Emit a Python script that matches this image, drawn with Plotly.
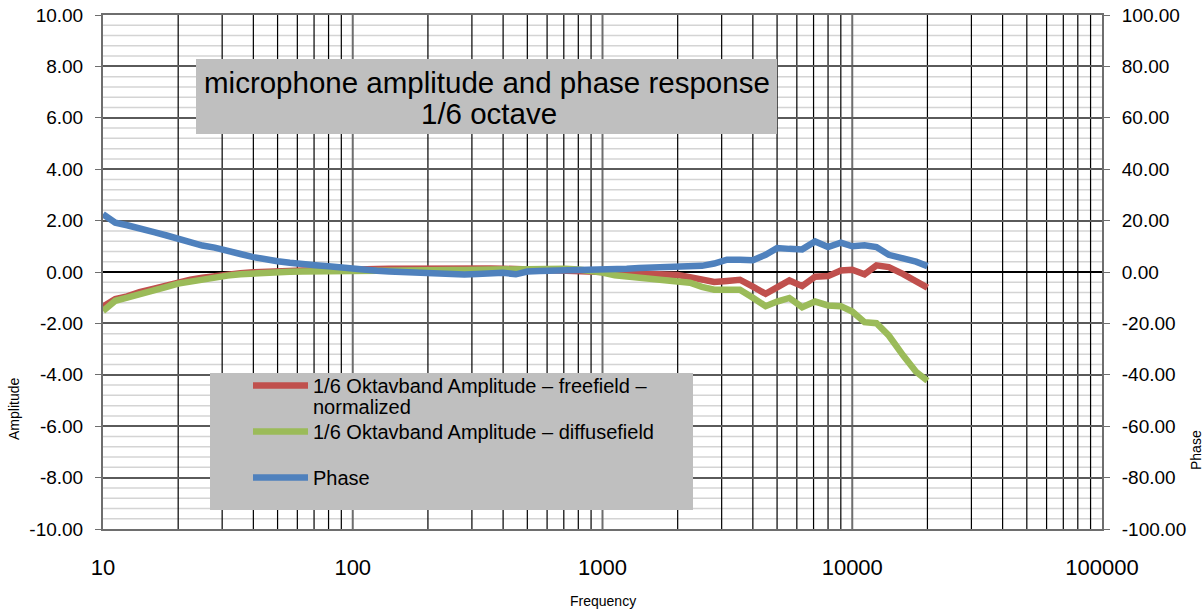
import plotly.graph_objects as go

# 1/6-octave band centre frequencies (Hz)
freq = [10, 11.2, 12.5, 14, 16, 18, 20, 22.4, 25, 28, 31.5, 35.5, 40, 45, 50, 56, 63, 71, 80, 90,
        100, 112, 125, 140, 160, 180, 200, 224, 250, 280, 315, 355, 400, 450, 500, 560, 630, 710, 800, 900,
        1000, 1120, 1250, 1400, 1600, 1800, 2000, 2240, 2500, 2800, 3150, 3550, 4000, 4500, 5000, 5600,
        6300, 7100, 8000, 9000, 10000, 11200, 12500, 14000, 16000, 18000, 20000]

amp_freefield = [-1.35, -1.05, -0.95, -0.78, -0.65, -0.52, -0.40, -0.30, -0.22, -0.15, -0.09, -0.05, -0.01,
                 0.02, 0.04, 0.05, 0.06, 0.06, 0.06, 0.07,
                 0.08, 0.10, 0.12, 0.13, 0.14, 0.15, 0.15, 0.15, 0.15, 0.15, 0.15, 0.14, 0.13, 0.12, 0.12,
                 0.10, 0.08, 0.06, 0.04, 0.02,
                 0.00, -0.02, -0.03, -0.05, -0.07, -0.10, -0.12, -0.20, -0.30, -0.39, -0.35, -0.30, -0.57,
                 -0.85, -0.60, -0.33,
                 -0.55, -0.18, -0.16, 0.06, 0.09, -0.09, 0.26, 0.19, -0.08, -0.39, -0.61]

amp_diffusefield = [-1.52, -1.12, -1.00, -0.85, -0.70, -0.58, -0.45, -0.36, -0.28, -0.20, -0.14, -0.09, -0.05,
                    -0.02, 0.00, 0.01, 0.02, 0.03, 0.04, 0.05,
                    0.06, 0.07, 0.08, 0.09, 0.10, 0.10, 0.10, 0.10, 0.08, 0.08, 0.09, 0.10, 0.10, 0.10, 0.12,
                    0.15, 0.15, 0.13, 0.10, 0.05,
                    -0.02, -0.13, -0.17, -0.20, -0.25, -0.28, -0.33, -0.42, -0.58, -0.69, -0.69, -0.69, -1.00,
                    -1.33, -1.15, -1.01,
                    -1.37, -1.15, -1.30, -1.33, -1.54, -1.95, -1.99, -2.47, -3.25, -3.88, -4.23]

phase = [22.5, 19.2, 18.2, 17.2, 15.5, 14.2, 12.8, 11.2, 10.3, 9.5, 8.0, 7.0, 5.8, 4.8, 4.2, 3.6, 2.9, 2.6,
         2.2, 1.6,
         1.2, 0.8, 0.5, 0.2, 0.0, -0.3, -0.6, -0.9, -1.2, -1.0, -0.8, -0.6, -0.3, -0.9, 0.2, 0.4, 0.5, 0.5,
         0.5, 0.6,
         0.7, 1.0, 1.3, 1.6, 1.9, 2.1, 2.2, 2.2, 2.4, 3.3, 4.8, 4.8, 4.6, 6.7, 9.3, 9.0,
         8.8, 11.9, 9.7, 11.4, 10.0, 10.4, 9.7, 6.7, 5.5, 4.0, 2.3]

series_names = ["1/6 Oktavband Amplitude – freefield –",
                "1/6 Oktavband Amplitude – diffusefield",
                "Phase"]
series_name_continuation = "normalized"
series_colors = ["#C0504D", "#9BBB59", "#4F81BD"]

x_tick_vals = [10, 100, 1000, 10000, 100000]
x_tick_labels = ["10", "100", "1000", "10000", "100000"]
y_tick_vals = [10, 8, 6, 4, 2, 0, -2, -4, -6, -8, -10]
y_tick_labels = ["10.00", "8.00", "6.00", "4.00", "2.00", "0.00", "-2.00", "-4.00", "-6.00", "-8.00", "-10.00"]
y2_tick_vals = [100, 80, 60, 40, 20, 0, -20, -40, -60, -80, -100]
y2_tick_labels = ["100.00", "80.00", "60.00", "40.00", "20.00", "0.00", "-20.00", "-40.00", "-60.00",
                  "-80.00", "-100.00"]

title_lines = ["microphone amplitude and phase response", "1/6 octave"]

W, H = 1204, 612
L, R, T, B = 103, 102, 15, 83
pw, ph = W - L - R, H - T - B


def px(x):
    return (x - L) / pw


def py(y):
    return (H - B - y) / ph


minor_x = [m * 10 ** d for d in range(1, 5) for m in range(2, 10)]
major_x = x_tick_vals[1:-1]
minor_y = [round(-10 + 0.4 * k, 2) for k in range(1, 50) if k % 5 != 0]

fig = go.Figure()
fig.add_trace(go.Scatter(x=freq, y=amp_freefield, name=series_names[0], mode="lines", legendgroup="a",
                         line=dict(color=series_colors[0], width=6.5)))
fig.add_trace(go.Scatter(x=freq, y=amp_diffusefield, name=series_names[1], mode="lines", legendgroup="b",
                         line=dict(color=series_colors[1], width=6.5)))
fig.add_trace(go.Scatter(x=freq, y=phase, name=series_names[2], mode="lines", yaxis="y2", legendgroup="c",
                         line=dict(color=series_colors[2], width=6.5)))

font_family = "Liberation Sans, Arial, sans-serif"

# light horizontal minor grid underneath everything, vertical log grid above it
grid_shapes = [dict(type="line", xref="paper", yref="y", x0=0, x1=1, y0=v, y1=v, layer="below",
                    line=dict(color="#d4d4d4", width=1.5)) for v in minor_y]
grid_shapes += [dict(type="line", xref="x", yref="paper", x0=v, x1=v, y0=0, y1=1, layer="between",
                     line=dict(color="black", width=1.2)) for v in minor_x]
grid_shapes += [dict(type="line", xref="x", yref="paper", x0=v, x1=v, y0=0, y1=1, layer="between",
                     line=dict(color="#6e6e6e", width=2)) for v in major_x]

box_shapes = [
    dict(type="rect", xref="paper", yref="paper", x0=px(196), x1=px(777), y0=py(134), y1=py(59),
         fillcolor="#BFBFBF", line=dict(width=0), layer="above"),
    dict(type="rect", xref="paper", yref="paper", x0=px(210), x1=px(693), y0=py(510), y1=py(373),
         fillcolor="#BFBFBF", line=dict(width=0), layer="above"),
]

fig.update_layout(
    width=W, height=H,
    margin=dict(l=L, r=R, t=T, b=B, autoexpand=False),
    paper_bgcolor="white", plot_bgcolor="white",
    font=dict(family=font_family, color="black"),
    showlegend=True,
    legend=dict(x=px(248), y=py(366), xanchor="left", yanchor="top",
                bgcolor="rgba(0,0,0,0)", font=dict(size=20, color="black"),
                valign="top", tracegroupgap=17, itemwidth=55),
    xaxis=dict(type="log", range=[1, 5], tickmode="array", tickvals=x_tick_vals, ticktext=x_tick_labels,
               tickfont=dict(size=22), showgrid=False,
               showline=True, linecolor="#6e6e6e", linewidth=2, mirror=True, ticks="",
               ticklabelstandoff=18, zeroline=False),
    yaxis=dict(range=[-10, 10], tickmode="array", tickvals=y_tick_vals, ticktext=y_tick_labels,
               tickfont=dict(size=19), showgrid=True, gridcolor="#5a5a5a", gridwidth=1.5,
               zeroline=True, zerolinecolor="black", zerolinewidth=1.5,
               showline=True, linecolor="#6e6e6e", linewidth=2, ticks="outside", ticklen=6,
               tickcolor="#6e6e6e", ticklabelstandoff=8),
    yaxis2=dict(range=[-100, 100], overlaying="y", side="right", tickmode="array", tickvals=y2_tick_vals,
                ticktext=y2_tick_labels, tickfont=dict(size=19), showgrid=False, zeroline=False,
                showline=True, linecolor="#6e6e6e", linewidth=2, ticks="outside", ticklen=6,
                tickcolor="#6e6e6e", ticklabelstandoff=8),
    shapes=grid_shapes + box_shapes,
    annotations=[
        dict(text=title_lines[0], xref="paper", yref="paper", x=px(486.5), y=py(83), showarrow=False,
             font=dict(size=29.5), xanchor="center", yanchor="middle"),
        dict(text=title_lines[1], xref="paper", yref="paper", x=px(489), y=py(114), showarrow=False,
             font=dict(size=29.5), xanchor="center", yanchor="middle"),
        dict(text=series_name_continuation, xref="paper", yref="paper", x=px(311), y=py(407),
             showarrow=False, font=dict(size=20), xanchor="left", yanchor="middle"),
        dict(text="Amplitude", xref="paper", yref="paper", x=px(14), y=py(409), showarrow=False,
             textangle=-90, font=dict(size=14), xanchor="center", yanchor="middle"),
        dict(text="Phase", xref="paper", yref="paper", x=px(1196), y=py(450), showarrow=False,
             textangle=-90, font=dict(size=14), xanchor="center", yanchor="middle"),
        dict(text="Frequency", xref="paper", yref="paper", x=px(603), y=py(601), showarrow=False,
             font=dict(size=14), xanchor="center", yanchor="middle"),
    ],
)

fig.write_html("out.html", config={"displayModeBar": False},
               post_script="document.body.style.margin='0px';document.body.style.overflow='hidden';")
